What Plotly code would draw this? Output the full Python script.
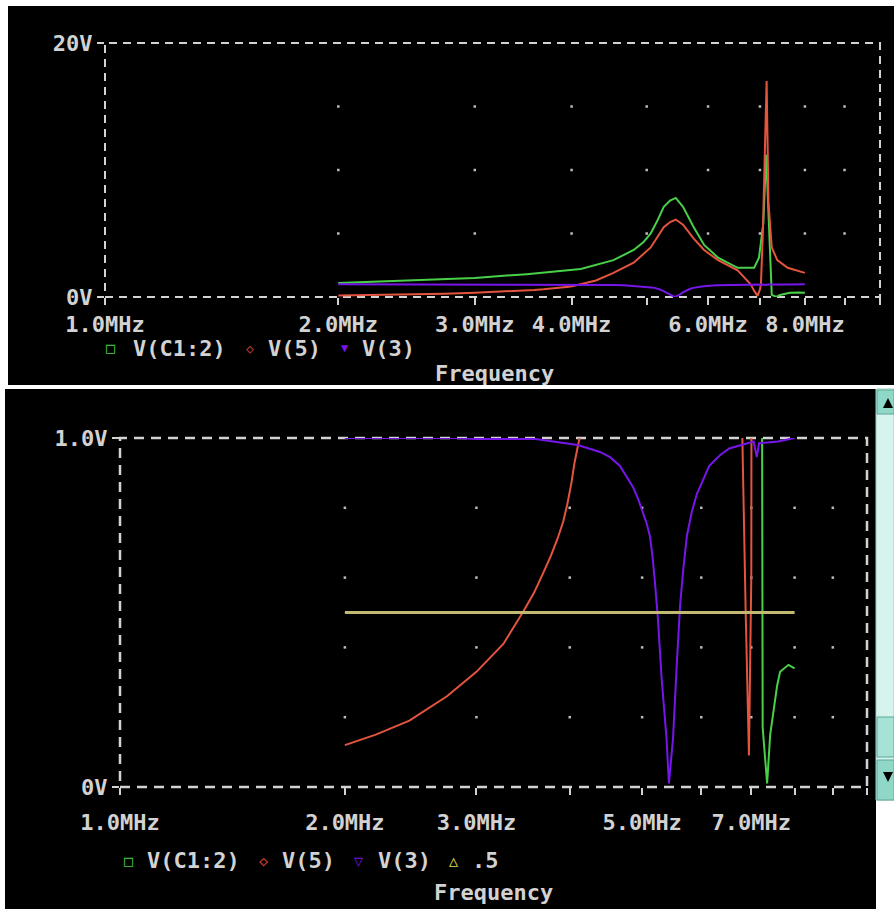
import plotly.graph_objects as go

# ---------------- data (frequency in MHz, voltage in V) ----------------
freq_c12 = [2.0, 2.5, 3.0, 3.5, 4.11, 4.53, 4.81, 4.95, 5.06, 5.16, 5.26, 5.36, 5.45, 5.57,
            5.66, 5.75, 5.93, 6.18, 6.55, 6.88, 6.98, 7.07, 7.13, 7.19, 7.23, 7.25, 7.35,
            7.42, 7.50, 7.58, 7.65, 7.85, 8.0]
v_c12 = [1.1, 1.3, 1.5, 1.8, 2.2, 2.9, 3.7, 4.3, 5.0, 6.0, 7.1, 7.6, 7.8, 7.1,
         6.3, 5.5, 4.1, 3.1, 2.3, 2.3, 3.1, 5.8, 11.2, 5.0, 1.5, 0.17, 0.01,
         0.15, 0.22, 0.29, 0.33, 0.35, 0.34]

freq_5 = [2.0, 2.2, 2.44, 2.74, 3.0, 3.26, 3.46, 3.58, 3.68, 3.77, 3.85, 3.92, 3.97, 4.02,
          4.06, 4.15, 4.3, 4.53, 4.81, 5.06, 5.16, 5.26, 5.36, 5.45, 5.57, 5.66, 5.75, 5.93,
          6.18, 6.55, 6.72, 6.81, 6.88, 6.95, 7.0, 7.02, 7.06, 7.10, 7.14, 7.18, 7.25, 7.37,
          7.6, 8.0]
v_5 = [0.12, 0.15, 0.19, 0.26, 0.33, 0.41, 0.50, 0.555, 0.61, 0.66, 0.71, 0.76, 0.81, 0.87,
       0.93, 1.03, 1.3, 1.9, 2.7, 3.9, 4.7, 5.5, 5.9, 6.1, 5.7, 5.1, 4.6, 3.7,
       2.9, 2.1, 1.4, 1.0, 0.5, 0.09, 0.6, 1.0, 5.0, 12.0, 17.0, 7.4, 3.9, 2.9,
       2.3, 1.9]

freq_3 = [2.0, 2.8, 3.0, 3.6, 3.8, 4.1, 4.39, 4.53, 4.67, 4.77, 4.86, 4.94, 5.01, 5.07, 5.12,
          5.16, 5.20, 5.25, 5.31, 5.35, 5.39, 5.43, 5.46, 5.50, 5.56, 5.62, 5.68, 5.74, 5.83,
          5.92, 6.15, 6.35, 6.54, 6.9, 7.05, 7.12, 7.17, 7.6, 8.0]
v_3 = [1.0, 1.0, 0.997, 0.997, 0.99, 0.98, 0.96, 0.945, 0.92, 0.89, 0.86, 0.825, 0.79, 0.755,
       0.72, 0.665, 0.59, 0.48, 0.31, 0.22, 0.14, 0.01, 0.06, 0.14, 0.34, 0.52, 0.63, 0.72,
       0.79, 0.84, 0.92, 0.95, 0.97, 0.985, 0.99, 0.945, 0.985, 0.99, 1.0]

freq_ref = [2.0, 8.0]
v_ref = [0.5, 0.5]

# ticks / grid
x_tickvals = [1, 2, 3, 4, 5, 6, 7, 8, 9, 10]
x_ticktext_top = ["1.0MHz", "2.0MHz", "3.0MHz", "4.0MHz", "", "6.0MHz", "", "8.0MHz", "", ""]
x_ticktext_bot = ["1.0MHz", "2.0MHz", "3.0MHz", "", "5.0MHz", "", "7.0MHz", "", "", ""]
y_tickvals_top = [0, 20]
y_ticktext_top = ["0V", "20V"]
y_tickvals_bot = [0, 1.0]
y_ticktext_bot = ["0V", "1.0V"]
grid_x = [2, 3, 4, 5, 6, 7, 8, 9]
grid_y_top = [5, 10, 15]
grid_y_bot = [0.2, 0.4, 0.6, 0.8]

# ---------------- styling ----------------
W, H = 894, 909
GREEN = "#48d048"
RED = "#e4543e"
PURPLE = "#7616e8"
YELLOW_LINE = "#c2ba72"
YELLOW_SYM = "#e6e04a"
FG = "#d2d2d2"
FONT = "DejaVu Sans Mono"


def px(x):
    return x / W


def py(y):
    return 1 - y / H


fig = go.Figure()

# grid dots
for xa, ya, gy in (("x", "y", grid_y_top), ("x2", "y2", grid_y_bot)):
    gx = [x for x in grid_x for _ in gy]
    gyy = [y for _ in grid_x for y in gy]
    fig.add_trace(go.Scatter(x=gx, y=gyy, xaxis=xa, yaxis=ya, mode="markers",
                             marker=dict(symbol="square", size=2.5, color="#bdbdbd"),
                             hoverinfo="skip", showlegend=False))

for xa, ya in (("x", "y"), ("x2", "y2")):
    fig.add_trace(go.Scatter(x=freq_c12, y=v_c12, xaxis=xa, yaxis=ya, mode="lines",
                             line=dict(color=GREEN, width=2), name="V(C1:2)", showlegend=False))
    fig.add_trace(go.Scatter(x=freq_5, y=v_5, xaxis=xa, yaxis=ya, mode="lines",
                             line=dict(color=RED, width=2), name="V(5)", showlegend=False))
    fig.add_trace(go.Scatter(x=freq_3, y=v_3, xaxis=xa, yaxis=ya, mode="lines",
                             line=dict(color=PURPLE, width=2), name="V(3)", showlegend=False))

fig.add_trace(go.Scatter(x=freq_ref, y=v_ref, xaxis="x2", yaxis="y2", mode="lines",
                         line=dict(color=YELLOW_LINE, width=3), name=".5", showlegend=False))

tickfont = dict(family=FONT, size=22, color=FG, weight="bold")
common_x = dict(type="log", range=[0, 1], tickvals=x_tickvals, ticks="outside", ticklen=7,
                tickwidth=2, tickcolor=FG, showgrid=False, zeroline=False, showline=False,
                tickfont=tickfont, fixedrange=True, automargin=False)
common_y = dict(ticks="outside", ticklen=7, tickwidth=2, tickcolor=FG, showgrid=False,
                zeroline=False, showline=False, tickfont=tickfont, fixedrange=True,
                automargin=False)

fig.update_layout(
    template="none",
    width=W, height=H,
    autosize=False,
    margin=dict(l=0, r=0, t=0, b=0, pad=0, autoexpand=False),
    paper_bgcolor="white",
    plot_bgcolor="rgba(0,0,0,0)",
    showlegend=False,
    xaxis=dict(common_x, domain=[px(105), px(880)], anchor="y", ticktext=x_ticktext_top,
               ticklabelstandoff=1),
    yaxis=dict(common_y, domain=[py(297), py(43)], anchor="x", range=[0, 20],
               tickvals=y_tickvals_top, ticktext=y_ticktext_top),
    xaxis2=dict(common_x, domain=[px(120), px(867)], anchor="y2", ticktext=x_ticktext_bot,
                ticklabelstandoff=9),
    yaxis2=dict(common_y, domain=[py(787), py(438)], anchor="x2", range=[0, 1.0],
                tickvals=y_tickvals_bot, ticktext=y_ticktext_bot),
)

shapes = [
    # window backgrounds
    dict(type="rect", xref="paper", yref="paper", x0=px(8), x1=px(894), y0=py(385), y1=py(6),
         fillcolor="black", line=dict(width=0), layer="below"),
    dict(type="rect", xref="paper", yref="paper", x0=px(5), x1=px(876), y0=py(909), y1=py(389),
         fillcolor="black", line=dict(width=0), layer="below"),
    # scrollbar
    dict(type="rect", xref="paper", yref="paper", x0=px(876), x1=px(894), y0=py(800), y1=py(389),
         fillcolor="#d6f3ed", line=dict(color="#9ccfc4", width=1), layer="below"),
    dict(type="rect", xref="paper", yref="paper", x0=px(877), x1=px(894), y0=py(414), y1=py(390),
         fillcolor="#8fd8c8", line=dict(color="#5aa898", width=1), layer="below"),
    dict(type="rect", xref="paper", yref="paper", x0=px(877), x1=px(894), y0=py(757), y1=py(717),
         fillcolor="#a6e2d6", line=dict(color="#5aa898", width=1), layer="below"),
    dict(type="rect", xref="paper", yref="paper", x0=px(877), x1=px(894), y0=py(800), y1=py(760),
         fillcolor="#8fd8c8", line=dict(color="#5aa898", width=1), layer="below"),
    dict(type="path", xref="paper", yref="paper",
         path=f"M {px(883)} {py(408)} L {px(893)} {py(408)} L {px(888)} {py(398)} Z",
         fillcolor="black", line=dict(width=0), layer="above"),
    dict(type="path", xref="paper", yref="paper",
         path=f"M {px(883)} {py(772)} L {px(893)} {py(772)} L {px(888)} {py(782)} Z",
         fillcolor="black", line=dict(width=0), layer="above"),
    # dashed plot frames
    dict(type="rect", xref="x domain", yref="y domain", x0=0, x1=1, y0=0, y1=1,
         line=dict(color=FG, width=2, dash="8px,6px"), layer="below"),
    dict(type="rect", xref="x2 domain", yref="y2 domain", x0=0, x1=1, y0=0, y1=1,
         line=dict(color=FG, width=2.5, dash="10px,7px"), layer="below"),
]
fig.update_layout(shapes=shapes)

annfont = dict(family=FONT, size=22, color=FG, weight="bold")
symfont = dict(family=FONT, size=15)


def ann(x, y, text, font, xanchor="left"):
    fig.add_annotation(xref="paper", yref="paper", x=px(x), y=py(y), text=text,
                       showarrow=False, xanchor=xanchor, yanchor="middle", font=font)


# top legend
ann(110, 348, "□", dict(symfont, color=GREEN, weight="bold"), "center")
ann(131, 348, "V(C1:2)", annfont)
ann(250, 348, "◇", dict(symfont, color="#c83a2e", size=13), "center")
ann(266, 348, "V(5)", annfont)
ann(345, 348, "▼", dict(symfont, color=PURPLE, size=12), "center")
ann(360, 348, "V(3)", annfont)
ann(494, 373, "Frequency", annfont, "center")

# bottom legend
ann(128, 861, "□", dict(symfont, color=GREEN, weight="bold"), "center")
ann(145, 860, "V(C1:2)", annfont)
ann(263, 861, "◇", dict(symfont, color="#c83a2e", weight="bold"), "center")
ann(280, 860, "V(5)", annfont)
ann(358, 861, "▽", dict(symfont, color=PURPLE, weight="bold"), "center")
ann(376, 860, "V(3)", annfont)
ann(453, 861, "△", dict(symfont, color=YELLOW_SYM, weight="bold"), "center")
ann(470, 860, ".5", annfont)
ann(493, 892, "Frequency", annfont, "center")

fig.write_html(
    "out.html",
    config=dict(responsive=False, displayModeBar=False),
    post_script="document.body.style.margin='0';document.body.style.overflow='hidden';",
)
